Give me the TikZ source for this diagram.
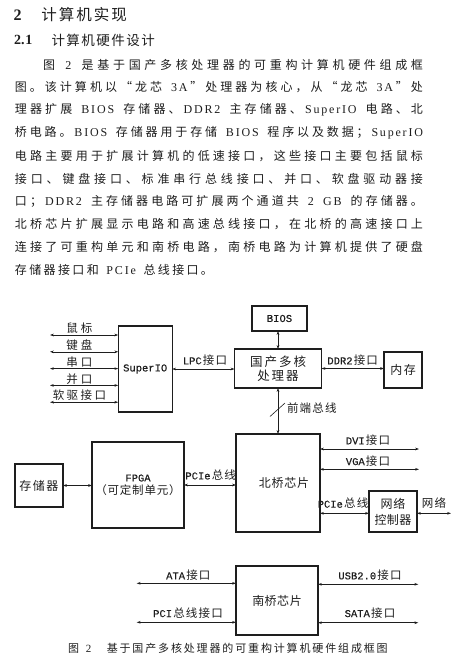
\documentclass[tikz,border=0pt]{standalone}
\usepackage{fontspec}
\setmainfont{Noto Sans CJK SC}
\newfontfamily\ser{Liberation Serif}
\newfontfamily\mon[FakeBold=0.3]{Liberation Mono}
\usetikzlibrary{arrows.meta}
\definecolor{ink}{HTML}{1E1E1E}

\ExplSyntaxOn
\bool_new:N \l__rk_first_bool
\bool_new:N \l__rk_cur_bool
\bool_new:N \l__rk_prev_bool
\cs_new_protected:Npn \__rk_item:n #1
 {
  \tl_if_single_token:nTF {#1}
   { \int_compare:nNnTF { `#1 } < { 256 } { { \latfont #1 } } { #1 } }
   { { \latfont #1 } }
 }
\cs_new_protected:Npn \__rk_setlat:n #1
 {
  \bool_set_false:N \l__rk_cur_bool
  \tl_if_single_token:nT {#1}
   { \int_compare:nNnT { `#1 } < { 126 } { \bool_set_true:N \l__rk_cur_bool } }
 }
\NewDocumentCommand \spreadto { m m }
 {
  \mode_leave_vertical:
  \hbox_to_wd:nn {#1}
   {
    \bool_set_true:N \l__rk_first_bool
    \bool_set_false:N \l__rk_prev_bool
    \tl_map_inline:nn {#2}
     {
      \__rk_setlat:n {##1}
      \bool_if:NTF \l__rk_first_bool { \bool_set_false:N \l__rk_first_bool }
       {
        \bool_if:nTF { \l__rk_cur_bool && \l__rk_prev_bool } { \kern 1.8pt \relax } { \hfill }
       }
      \__rk_item:n {##1}
      \bool_set_eq:NN \l__rk_prev_bool \l__rk_cur_bool
     }
   }
 }
\NewDocumentCommand \gp { O{1.2pt} m }
 {
  \mode_leave_vertical:
  \hbox:n
   {
    \bool_set_true:N \l__rk_first_bool
    \tl_map_inline:nn {#2}
     {
      \bool_if:NTF \l__rk_first_bool { \bool_set_false:N \l__rk_first_bool } { \kern #1 \relax }
      \__rk_item:n {##1}
     }
   }
 }
\ExplSyntaxOff

\let\latfont\ser
\newcommand\dlat{\mon\fontsize{10.5pt}{12pt}\selectfont}
\newcommand\parafont{\fontsize{12pt}{14pt}\selectfont\let\latfont\ser}
\newcommand\labfont{\fontsize{11.5pt}{13pt}\selectfont\let\latfont\dlat}
\newcommand\boxfont{\fontsize{12pt}{14pt}\selectfont\let\latfont\dlat}
\newcommand\capfont{\fontsize{11pt}{12pt}\selectfont\let\latfont\ser}

\tikzset{
  txt/.style={inner sep=0pt, outer sep=0pt, text=ink},
  para/.style={txt, anchor=west, font=\parafont},
  lab/.style={txt, font=\labfont},
  blk/.style={draw=ink, line width=1.1pt, inner sep=0pt, outer sep=0pt, text=ink, font=\boxfont, align=center},
  conn/.style={draw=ink, line width=0.6pt, {Stealth[length=3.8pt,width=2.6pt]}-{Stealth[length=3.8pt,width=2.6pt]}}
}

\begin{document}
\begin{tikzpicture}[x=1pt,y=-1pt]
\fill[white] (0,0) rectangle (452,657);
\useasboundingbox (0,0) rectangle (452,657);

% headings
\node[txt, anchor=west] (h1n) at (13.5,15) {\fontsize{16pt}{16pt}\selectfont\ser\bfseries 2};
\node[txt, anchor=west] (h1t) at (41.5,15) {\fontsize{15.5pt}{16pt}\selectfont\spreadto{85.5pt}{计算机实现}};
\node[txt, anchor=west] (h2n) at (14,40) {\fontsize{14pt}{14pt}\selectfont\ser\bfseries 2.\kern1pt 1};
\node[txt, anchor=west] (h2t) at (51.5,40) {\fontsize{13.5pt}{14pt}\selectfont\spreadto{103.5pt}{计算机硬件设计}};

% paragraph
\node[para] (p1) at (43,64.5) {\spreadto{380pt}{图~2~是基于国产多核处理器的可重构计算机硬件组成框}};
\node[para] (p2) at (15,87.3) {\spreadto{408pt}{图。该计算机以“龙芯~3A”处理器为核心，从“龙芯~3A”处}};
\node[para] (p3) at (15,110.1) {\spreadto{408pt}{理器扩展~BIOS~存储器、DDR2~主存储器、SuperIO~电路、北}};
\node[para] (p4) at (15,132.9) {\spreadto{408pt}{桥电路。BIOS~存储器用于存储~BIOS~程序以及数据；SuperIO}};
\node[para] (p5) at (15,155.7) {\spreadto{408pt}{电路主要用于扩展计算机的低速接口，这些接口主要包括鼠标}};
\node[para] (p6) at (15,178.5) {\spreadto{408pt}{接口、键盘接口、标准串行总线接口、并口、软盘驱动器接}};
\node[para] (p7) at (15,201.3) {\spreadto{408pt}{口；DDR2~主存储器电路可扩展两个通道共~2~GB~的存储器。}};
\node[para] (p8) at (15,224.1) {\spreadto{408pt}{北桥芯片扩展显示电路和高速总线接口，在北桥的高速接口上}};
\node[para] (p9) at (15,246.9) {\spreadto{408pt}{连接了可重构单元和南桥电路，南桥电路为计算机提供了硬盘}};
\node[para] (p10) at (15,269.7) {\spreadto{198pt}{存储器接口和~PCIe~总线接口。}};

% blocks
\node[blk, minimum width=54pt, minimum height=86pt] (sio) at (145.2,369) {\gp{{SuperIO}}};
\node[blk, minimum width=55pt, minimum height=25pt] (bios) at (279.5,318.5) {\gp{{BIOS}}};
\node[blk, minimum width=87pt, minimum height=39pt, font=\fontsize{12.5pt}{14.3pt}\selectfont\let\latfont\dlat] (proc) at (278,368.5) {\gp[2pt]{国产多核}\\\gp[2pt]{处理器}};
\node[blk, minimum width=38pt, minimum height=36pt] (mem) at (403,370) {\gp[1.5pt]{内存}};
\node[blk, minimum width=84pt, minimum height=98pt] (nb) at (278,483) {\hspace*{12pt}\gp[0.8pt]{北桥芯片}};
\node[blk, minimum width=48pt, minimum height=41pt, font=\fontsize{12pt}{16pt}\selectfont\let\latfont\dlat] (net) at (393,511.5) {\gp[1pt]{网络}\\\gp[0.5pt]{控制器}};
\node[blk, minimum width=48pt, minimum height=43pt] (sto) at (39,485.5) {\gp[1.5pt]{存储器}};
\node[blk, minimum width=92pt, minimum height=86pt, font=\fontsize{11.5pt}{13pt}\selectfont\let\latfont\dlat] (fpga) at (138,485) {\gp{{FPGA}}\\\gp[0.8pt]{（可定制单元）}};
\node[blk, minimum width=82pt, minimum height=69pt] (sb) at (277,600.5) {\gp[0.5pt]{南桥芯片}};

% SuperIO left side
\coordinate (k1) at (50,335);
\coordinate (k2) at (50,351.8);
\coordinate (k3) at (50,368.6);
\coordinate (k4) at (50,385.4);
\coordinate (k5) at (50,402.2);
\draw[conn] (k1) -- (k1 -| sio.west);
\draw[conn] (k2) -- (k2 -| sio.west);
\draw[conn] (k3) -- (k3 -| sio.west);
\draw[conn] (k4) -- (k4 -| sio.west);
\draw[conn] (k5) -- (k5 -| sio.west);
\node[lab] (lk1) at (79.5,328) {\gp[3pt]{鼠标}};
\node[lab] (lk2) at (79.5,345) {\gp[3pt]{键盘}};
\node[lab] (lk3) at (79.5,362) {\gp[3pt]{串口}};
\node[lab] (lk4) at (79.5,378.8) {\gp[3pt]{并口}};
\node[lab] (lk5) at (79.5,395.6) {\gp[2.5pt]{软驱接口}};

% processor links
\draw[conn] (sio.east) -- (sio.east -| proc.west);
\node[lab] (llpc) at (205,360) {\gp{{LPC}接口}};
\draw[conn] (proc.north |- bios.south) -- (proc.north);
\draw[conn] (proc.east) -- (proc.east -| mem.west);
\node[lab] (lddr) at (352.7,360) {\gp{{DDR2}接口}};
\draw[conn] (proc.south) -- (nb.north);
\coordinate (fsbm) at (278,410);
\draw[draw=ink, line width=0.6pt] ([shift={(-8pt,-6.5pt)}]fsbm) -- ([shift={(7pt,7pt)}]fsbm);
\node[lab, anchor=west] (lfsb) at (287,408) {\gp{前端总线}};

% north bridge links
\coordinate (dviR) at (419,449);
\coordinate (vgaR) at (419,469.3);
\draw[conn] (dviR -| nb.east) -- (dviR);
\draw[conn] (vgaR -| nb.east) -- (vgaR);
\node[lab] (ldvi) at (368,440) {\gp{{DVI}接口}};
\node[lab] (lvga) at (368,460.7) {\gp{{VGA}接口}};
\coordinate (nL) at ([yshift=-1.8pt]net.west);
\coordinate (nR) at ([yshift=-1.8pt]net.east);
\coordinate (netEnd) at (451,513.3);
\draw[conn] (nL -| nb.east) -- (nL);
\node[lab] (lpcie2) at (343,503.3) {\gp{{PCIe}总线}};
\draw[conn] (nR) -- (netEnd);
\node[lab] (lnet) at (434,503) {\gp{网络}};

\draw[conn] (sto.east) -- (sto.east -| fpga.west);
\draw[conn] (fpga.east) -- (fpga.east -| nb.west);
\node[lab] (lpcie1) at (210.7,475) {\gp{{PCIe}总线}};

% south bridge links
\coordinate (ataL) at (136.7,583.3);
\coordinate (pciL) at (136.7,622.3);
\coordinate (usbR) at (418.3,584.3);
\coordinate (sataR) at (418.3,622.7);
\draw[conn] (ataL) -- (ataL -| sb.west);
\draw[conn] (pciL) -- (pciL -| sb.west);
\draw[conn] (usbR -| sb.east) -- (usbR);
\draw[conn] (sataR -| sb.east) -- (sataR);
\node[lab] (lata) at (188.3,575) {\gp{{ATA}接口}};
\node[lab] (lpci) at (188,612.7) {\gp{{PCI}总线接口}};
\node[lab] (lusb) at (370,575) {\gp{{USB2.0}接口}};
\node[lab] (lsata) at (370,612.7) {\gp{{SATA}接口}};

% caption
\node[txt, anchor=west, font=\capfont] (cap) at (68,648.3) {\gp[2pt]{图~2}\hspace*{15.5pt}\spreadto{281pt}{基于国产多核处理器的可重构计算机硬件组成框图}};
\end{tikzpicture}
\end{document}
